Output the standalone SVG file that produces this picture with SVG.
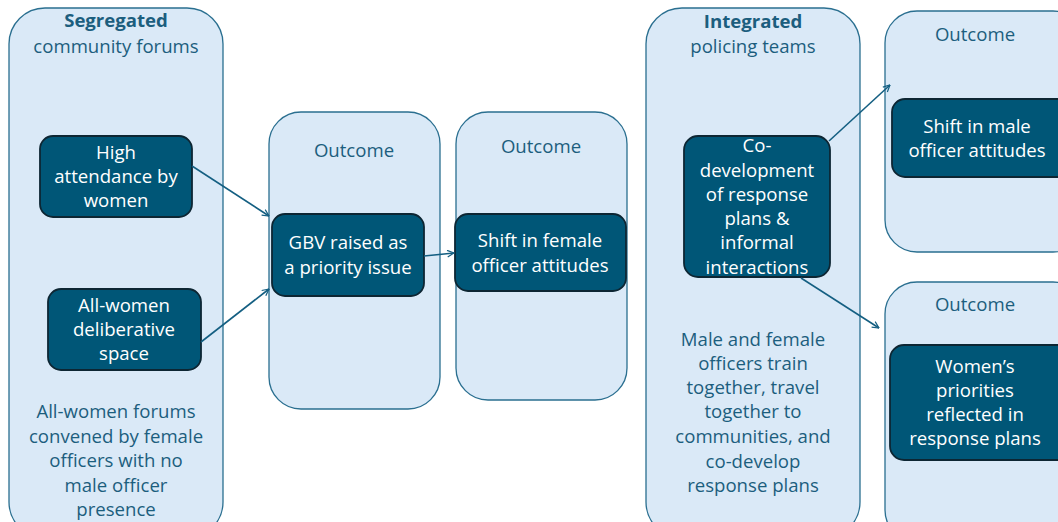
<svg xmlns="http://www.w3.org/2000/svg" width="1058" height="522" viewBox="0 0 1058 522">
  <defs>
    <style>
      .panel { fill: #dae9f7; stroke: #2a6f90; stroke-width: 1.3; }
      .node { fill: #005677; stroke: #0d2633; stroke-width: 1.8; }
      .ptext { font-family: "Open Sans", "Liberation Sans", sans-serif; font-size: 18.6px; fill: #1c5e7e; text-anchor: middle; }
      .ntext { font-family: "Open Sans", "Liberation Sans", sans-serif; font-size: 18.6px; fill: #ffffff; text-anchor: middle; }
      .bold { font-weight: bold; }
      .edge { stroke: #145f82; stroke-width: 1.6; fill: none; marker-end: url(#arrow); }
    </style>
    <marker id="arrow" viewBox="0 0 12 12" refX="11" refY="6" markerWidth="8" markerHeight="8" markerUnits="userSpaceOnUse" orient="auto">
      <path d="M1,1 L11,6 L1,11" fill="none" stroke="#145f82" stroke-width="1.8"/>
    </marker>
  </defs>

  <!-- Segregated community forums -->
  <g id="segregated">
    <rect class="panel" x="9" y="8" width="214" height="530" rx="36"/>
    <text class="ptext bold" x="116" y="27">Segregated</text>
    <text class="ptext" x="116" y="53">community forums</text>
    <text class="ptext" x="116" y="418">All-women forums</text>
    <text class="ptext" x="116" y="443">convened by female</text>
    <text class="ptext" x="116" y="467">officers with no</text>
    <text class="ptext" x="116" y="492">male officer</text>
    <text class="ptext" x="116" y="516">presence</text>
  </g>

  <g id="high-attendance">
    <rect class="node" x="40" y="136" width="152" height="81" rx="13"/>
    <text class="ntext" x="116" y="159">High</text>
    <text class="ntext" x="116" y="183">attendance by</text>
    <text class="ntext" x="116" y="207">women</text>
  </g>

  <g id="deliberative-space">
    <rect class="node" x="48" y="289" width="153" height="81" rx="13"/>
    <text class="ntext" x="124" y="312">All-women</text>
    <text class="ntext" x="124" y="336">deliberative</text>
    <text class="ntext" x="124" y="360">space</text>
  </g>

  <!-- Outcome: GBV priority -->
  <g id="outcome-gbv">
    <rect class="panel" x="269" y="112" width="171" height="297" rx="32"/>
    <text class="ptext" x="354" y="157">Outcome</text>
  </g>
  <g id="gbv-priority">
    <rect class="node" x="272" y="214" width="152" height="82" rx="13"/>
    <text class="ntext" x="348" y="249">GBV raised as</text>
    <text class="ntext" x="348" y="274">a priority issue</text>
  </g>

  <!-- Outcome: female officer attitudes -->
  <g id="outcome-female">
    <rect class="panel" x="456" y="112" width="171" height="288" rx="32"/>
    <text class="ptext" x="541" y="153">Outcome</text>
  </g>
  <g id="female-attitudes">
    <rect class="node" x="455" y="214" width="171" height="77" rx="13"/>
    <text class="ntext" x="540" y="247">Shift in female</text>
    <text class="ntext" x="540" y="272">officer attitudes</text>
  </g>

  <!-- Integrated policing teams -->
  <g id="integrated">
    <rect class="panel" x="646" y="8" width="214" height="530" rx="36"/>
    <text class="ptext bold" x="753" y="28">Integrated</text>
    <text class="ptext" x="753" y="53">policing teams</text>
    <text class="ptext" x="753" y="346">Male and female</text>
    <text class="ptext" x="753" y="370">officers train</text>
    <text class="ptext" x="753" y="394">together, travel</text>
    <text class="ptext" x="753" y="418">together to</text>
    <text class="ptext" x="753" y="443">communities, and</text>
    <text class="ptext" x="753" y="468">co-develop</text>
    <text class="ptext" x="753" y="492">response plans</text>
  </g>
  <g id="co-development">
    <rect class="node" x="684" y="136" width="146" height="141" rx="14"/>
    <text class="ntext" x="757" y="152">Co-</text>
    <text class="ntext" x="757" y="177">development</text>
    <text class="ntext" x="757" y="201">of response</text>
    <text class="ntext" x="757" y="225">plans &amp;</text>
    <text class="ntext" x="757" y="249">informal</text>
    <text class="ntext" x="757" y="274">interactions</text>
  </g>

  <!-- Outcome: male officer attitudes -->
  <g id="outcome-male">
    <rect class="panel" x="885" y="11" width="200" height="241" rx="32"/>
    <text class="ptext" x="975" y="41">Outcome</text>
  </g>
  <g id="male-attitudes">
    <rect class="node" x="892" y="99" width="190" height="78" rx="13"/>
    <text class="ntext" x="977" y="133">Shift in male</text>
    <text class="ntext" x="977" y="157">officer attitudes</text>
  </g>

  <!-- Outcome: women's priorities -->
  <g id="outcome-priorities">
    <rect class="panel" x="885" y="282" width="200" height="260" rx="32"/>
    <text class="ptext" x="975" y="311">Outcome</text>
  </g>
  <g id="womens-priorities">
    <rect class="node" x="890" y="345" width="190" height="115" rx="14"/>
    <text class="ntext" x="975" y="373">Women’s</text>
    <text class="ntext" x="975" y="397">priorities</text>
    <text class="ntext" x="975" y="421">reflected in</text>
    <text class="ntext" x="975" y="445">response plans</text>
  </g>

  <!-- Connectors -->
  <g id="connectors">
    <line class="edge" x1="192" y1="166" x2="269" y2="216"/>
    <line class="edge" x1="201" y1="342" x2="269" y2="289"/>
    <line class="edge" x1="424" y1="256" x2="454" y2="253"/>
    <line class="edge" x1="829" y1="141" x2="890" y2="85"/>
    <line class="edge" x1="801" y1="278" x2="879" y2="328"/>
  </g>
</svg>
